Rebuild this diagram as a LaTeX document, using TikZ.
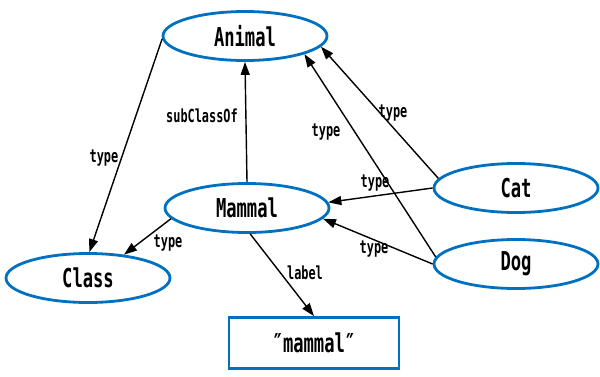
\documentclass[tikz,border=0pt]{standalone}
\usepackage{fontspec}
\usetikzlibrary{shapes.geometric,arrows.meta}
\newfontfamily\narrowfont{DejaVu Sans Mono}[FakeStretch=0.66]
\definecolor{nodeblue}{RGB}{0,112,192}
\begin{document}
\begin{tikzpicture}[x=1pt,y=-1pt,
  cls/.style={ellipse,draw=nodeblue,line width=2.8pt,minimum width=164pt,minimum height=49pt,inner sep=0pt,
              font=\narrowfont\bfseries\fontsize{26}{26}\selectfont},
  lit/.style={rectangle,draw=nodeblue,line width=2.8pt,minimum width=170pt,minimum height=51pt,inner sep=0pt,
              font=\narrowfont\bfseries\fontsize{26}{26}\selectfont},
  arr/.style={line width=1.4pt,-{Triangle[length=13pt,width=9pt]}},
  lbl/.style={font=\narrowfont\bfseries\fontsize{18}{18}\selectfont,inner sep=1pt}]
\useasboundingbox (0,0) rectangle (600,376);
% resources
\node[cls] (Animal) at (245,36) {Animal};
\node[cls] (Mammal) at (247,208) {Mammal};
\node[cls] (Class)  at (88,278)  {Class};
\node[cls] (Cat)    at (516,188) {Cat};
\node[cls] (Dog)    at (516,264) {Dog};
\node[lit] (mlit)   at (314,343) {″mammal″};
% properties
\draw[arr] (Animal.182) -- (Class.87);
\draw[arr] (Mammal.north) -- (Animal.south);
\draw[arr] (Cat.173) -- (Animal.-8);
\draw[arr] (Dog.175) -- (Animal.-17);
\draw[arr] (Cat.180) -- (Mammal.4);
\draw[arr] (Dog.180) -- (Mammal.-8);
\draw[arr] (Mammal.188) -- (Class.33);
\draw[arr] (Mammal.-83) -- (mlit.north);
% property labels
\node[lbl] (l1) at (104,158) {type};
\node[lbl] (l2) at (202,116) {subClassOf};
\node[lbl] (l3) at (393,113) {type};
\node[lbl] (l4) at (326,132) {type};
\node[lbl] (l5) at (375,183) {type};
\node[lbl] (l6) at (374,249) {type};
\node[lbl] (l7) at (168,243) {type};
\node[lbl] (l8) at (305,273) {label};
\end{tikzpicture}
\end{document}
